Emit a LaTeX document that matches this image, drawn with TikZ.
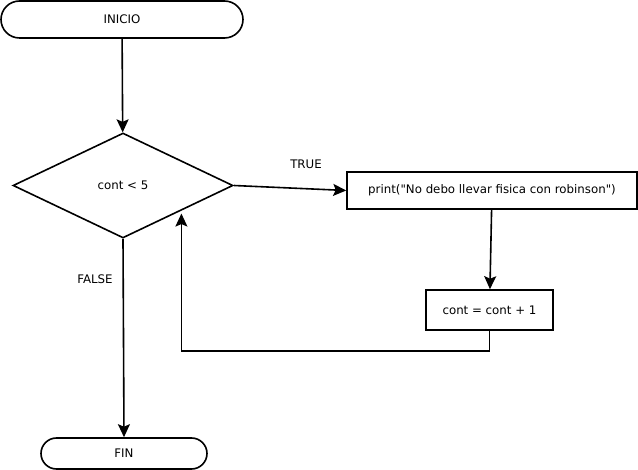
\documentclass[tikz,border=0pt]{standalone}
\usepackage{fontspec}
\setmainfont{DejaVu Sans}
\font\qtfont="DejaVu Sans" at 11.8pt
\newcommand\dq{{\qtfont\symbol{34}}}
\usetikzlibrary{shapes.geometric,shapes.misc,arrows.meta}

\begin{document}
\begin{tikzpicture}[x=1pt,y=-1pt,line width=1.6pt,
    font=\fontsize{11.8}{13}\selectfont,
    term/.style={draw,rounded rectangle,inner sep=0pt},
    proc/.style={draw,rectangle,inner sep=0pt},
    cond/.style={draw,diamond,inner sep=0pt,minimum width=220pt,minimum height=105pt},
    arr/.style={-{Stealth[length=13pt,width=12pt,inset=2.5pt]}}]
  \useasboundingbox (0,0) rectangle (638,470);
  \node[term,minimum width=242pt,minimum height=37pt] (ini) at (122,19.5) {INICIO};
  \node[cond] (dia) at (123,185.5) {cont < 5};
  \node[proc,minimum width=290pt,minimum height=37pt] (prt) at (492,190.5) {print(\dq No debo llevar fisica con robinson\dq)};
  \node[proc,minimum width=127pt,minimum height=40pt] (cnt) at (489.5,310) {cont = cont + 1};
  \node[term,minimum width=166pt,minimum height=31pt] (fin) at (124,453.5) {FIN};
  \node (tru) at (306,164) {TRUE};
  \node (fal) at (95,279) {FALSE};
  \coordinate (ret) at ([xshift=3pt,yshift=-1.4pt]dia.south east);
  \draw[arr] (ini) -- (dia);
  \draw[arr] (dia.east) -- (prt.west);
  \draw[arr] (prt) -- (cnt);
  \draw[arr] (cnt.south) -- ++(0,20) -| (ret);
  \draw[arr] (dia.south) -- (fin.north);
\end{tikzpicture}
\end{document}
